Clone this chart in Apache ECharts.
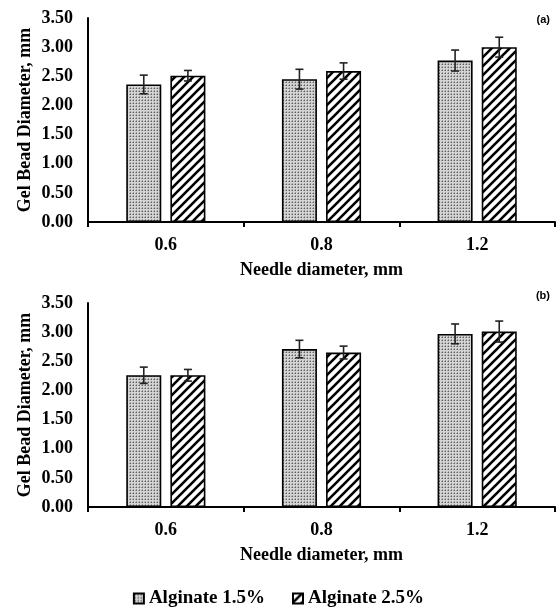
<!DOCTYPE html>
<html>
<head>
<meta charset="utf-8">
<script src="https://cdn.jsdelivr.net/npm/echarts@6/dist/echarts.min.js"></script>
<style>
  html, body { margin: 0; padding: 0; background: #fff; }
  #chart { width: 557px; height: 608px; }
</style>
</head>
<body>
<div id="chart"></div>
<script>
var categories = ["0.6", "0.8", "1.2"];
var seriesNames = ["Alginate 1.5%", "Alginate 2.5%"];

// panel (a)
var a15 = [2.36, 2.45, 2.77];
var a15Err = [0.16, 0.17, 0.18];
var a25 = [2.51, 2.59, 3.00];
var a25Err = [0.09, 0.14, 0.17];
// panel (b)
var b15 = [2.26, 2.71, 2.97];
var b15Err = [0.14, 0.15, 0.17];
var b25 = [2.26, 2.65, 3.01];
var b25Err = [0.10, 0.11, 0.18];

var FONT = "Liberation Serif";
var FS = 18;
var BAR_W = 0.225; // fraction of category band
var BAR_GAP = 0.26; // fraction of bar width

// stippled grey fill
function dotPattern() {
  var c = document.createElement("canvas");
  c.width = 3; c.height = 3;
  var ctx = c.getContext("2d");
  ctx.fillStyle = "#d4d4d4";
  ctx.fillRect(0, 0, 3, 3);
  ctx.fillStyle = "#606060";
  ctx.fillRect(1, 1, 1, 1);
  ctx.fillStyle = "#9c9c9c";
  ctx.fillRect(0, 1, 1, 1);
  ctx.fillRect(1, 0, 1, 1);
  return { image: c, repeat: "repeat" };
}

// diagonal hatching "/"
function hatchPattern() {
  var s = 9;
  var c = document.createElement("canvas");
  c.width = s; c.height = s;
  var ctx = c.getContext("2d");
  ctx.fillStyle = "#fff";
  ctx.fillRect(0, 0, s, s);
  ctx.strokeStyle = "#000";
  ctx.lineWidth = 2.6;
  ctx.beginPath();
  ctx.moveTo(-2, s + 2); ctx.lineTo(s + 2, -2);
  ctx.moveTo(-2, 2); ctx.lineTo(2, -2);
  ctx.moveTo(s - 2, s + 2); ctx.lineTo(s + 2, s - 2);
  ctx.stroke();
  return { image: c, repeat: "repeat" };
}

var fills = [dotPattern(), hatchPattern()];

function errData(vals, errs) {
  return vals.map(function (v, i) { return [i, v, errs[i]]; });
}

function errSeries(name, idx, vals, errs, side) {
  return {
    name: name,
    type: "custom",
    xAxisIndex: idx,
    yAxisIndex: idx,
    z: 5,
    silent: true,
    data: errData(vals, errs),
    renderItem: function (params, api) {
      var band = api.size([1, 0])[0];
      var bw = band * BAR_W;
      var off = side * (bw + bw * BAR_GAP) / 2;
      var hi = api.coord([api.value(0), api.value(1) + api.value(2)]);
      var lo = api.coord([api.value(0), api.value(1) - api.value(2)]);
      var x = hi[0] + off;
      var cap = 4;
      var st = { stroke: "#222", lineWidth: 1.6, fill: null };
      return {
        type: "group",
        children: [
          { type: "line", shape: { x1: x, y1: hi[1], x2: x, y2: lo[1] }, style: st },
          { type: "line", shape: { x1: x - cap, y1: hi[1], x2: x + cap, y2: hi[1] }, style: st },
          { type: "line", shape: { x1: x - cap, y1: lo[1], x2: x + cap, y2: lo[1] }, style: st }
        ]
      };
    }
  };
}

function barSeries(name, idx, vals, k) {
  return {
    name: name,
    type: "bar",
    xAxisIndex: idx,
    yAxisIndex: idx,
    barWidth: (BAR_W * 100) + "%",
    barGap: (BAR_GAP * 100) + "%",
    data: vals,
    itemStyle: { color: fills[k], borderColor: "#000", borderWidth: 1.6 }
  };
}

var grids = [
  { left: 88, right: 2, top: 18, height: 204 },
  { left: 88, right: 2, top: 303, height: 204 }
];

var txt = { fontFamily: FONT, fontWeight: "bold", fontSize: FS, color: "#000" };

function xAxis(idx) {
  return {
    type: "category",
    gridIndex: idx,
    data: categories,
    name: "Needle diameter, mm",
    nameLocation: "middle",
    nameGap: 39,
    nameMoveOverlap: false,
    nameTextStyle: txt,
    axisLine: { lineStyle: { color: "#000", width: 2 } },
    axisTick: { show: true, length: 5, lineStyle: { color: "#000", width: 2 } },
    axisLabel: Object.assign({ margin: 14 }, txt)
  };
}

function yAxis(idx) {
  return {
    type: "value",
    gridIndex: idx,
    min: 0,
    max: 3.5,
    interval: 0.5,
    name: "Gel Bead Diameter, mm",
    nameLocation: "middle",
    nameGap: 54,
    nameMoveOverlap: false,
    nameTextStyle: txt,
    axisLine: { show: true, lineStyle: { color: "#000", width: 2 } },
    axisTick: { show: false },
    splitLine: { show: false },
    axisLabel: Object.assign({
      margin: 15,
      formatter: function (v) { return v.toFixed(2); }
    }, txt)
  };
}

var chart = echarts.init(document.getElementById("chart"), null, { renderer: "canvas" });
chart.setOption({
  animation: false,
  backgroundColor: "#fff",
  grid: grids,
  xAxis: [xAxis(0), xAxis(1)],
  yAxis: [yAxis(0), yAxis(1)],
  legend: {
    data: seriesNames,
    top: 584,
    left: "center",
    itemWidth: 10,
    itemHeight: 10,
    itemGap: 27,
    icon: "rect",
    textStyle: { fontFamily: FONT, fontWeight: "bold", fontSize: 19, color: "#000" }
  },
  graphic: [
    { type: "text", right: 7, top: 14, style: { text: "(a)", font: "bold 11px 'Liberation Sans'", fill: "#000" } },
    { type: "text", right: 7, top: 290, style: { text: "(b)", font: "bold 11px 'Liberation Sans'", fill: "#000" } }
  ],
  series: [
    barSeries(seriesNames[0], 0, a15, 0),
    barSeries(seriesNames[1], 0, a25, 1),
    barSeries(seriesNames[0], 1, b15, 0),
    barSeries(seriesNames[1], 1, b25, 1),
    errSeries(seriesNames[0], 0, a15, a15Err, -1),
    errSeries(seriesNames[1], 0, a25, a25Err, 1),
    errSeries(seriesNames[0], 1, b15, b15Err, -1),
    errSeries(seriesNames[1], 1, b25, b25Err, 1)
  ]
});
</script>
</body>
</html>
